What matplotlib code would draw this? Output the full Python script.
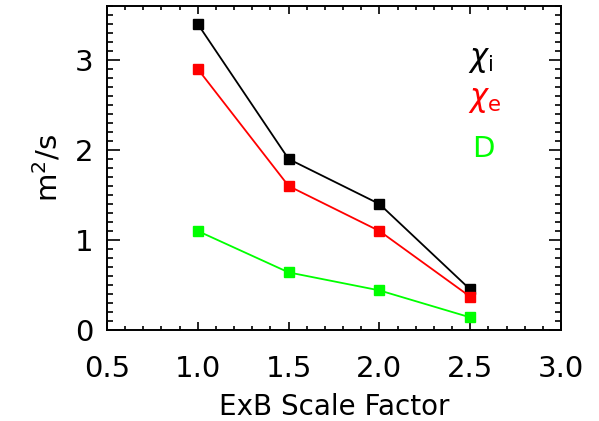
import matplotlib
matplotlib.use("Agg")
import matplotlib.pyplot as plt
from matplotlib.ticker import MultipleLocator

# ExB scale factor scan
scale = [1.0, 1.5, 2.0, 2.5]
chi_i = [3.4, 1.9, 1.4, 0.45]
chi_e = [2.9, 1.6, 1.1, 0.37]
diff_D = [1.1, 0.64, 0.44, 0.14]

plt.rcParams['font.family'] = ['DejaVu Sans']

fig = plt.figure(figsize=(5.99, 4.21), dpi=100, facecolor='white')
ax = fig.add_axes([0.1786, 0.2162, 0.758, 0.7695])

for y, c in [(chi_i, 'black'), (chi_e, '#ff0000'), (diff_D, '#00ff00')]:
	ax.plot(scale, y, color=c, lw=1.3, marker='s', ms=7, mec=c, mfc=c)

ax.set_xlim(0.5, 3.0)
ax.set_ylim(0, 3.6)
ax.xaxis.set_major_locator(MultipleLocator(0.5))
ax.xaxis.set_minor_locator(MultipleLocator(0.1))
ax.yaxis.set_major_locator(MultipleLocator(1))
ax.yaxis.set_minor_locator(MultipleLocator(0.1))
ax.xaxis.set_major_formatter(plt.FuncFormatter(lambda v, p: '%.1f' % v))

ax.tick_params(which='both', direction='in', top=True, right=True, width=1.2,
	labelsize=21, colors='black')
ax.tick_params(axis='x', which='major', length=6, pad=18)
ax.tick_params(axis='x', which='minor', length=3)
ax.tick_params(axis='y', which='major', length=9, pad=10)
ax.tick_params(axis='y', which='minor', length=4)
for s in ax.spines.values():
	s.set_linewidth(1.4)

ax.set_xlabel('ExB Scale Factor', fontsize=20, labelpad=7)
ax.set_ylabel('m$^2$/s', fontsize=21, labelpad=8)

# labels inside the plot
ax.text(0.795, 0.815, r'$\chi_{\rm i}$', transform=ax.transAxes, fontsize=22, color='black')
ax.text(0.795, 0.69, r'$\chi_{\rm e}$', transform=ax.transAxes, fontsize=22, color='#ff0000')
ax.text(0.805, 0.535, 'D', transform=ax.transAxes, fontsize=21, color='#00ff00')

fig.savefig('out.png', dpi=100)
